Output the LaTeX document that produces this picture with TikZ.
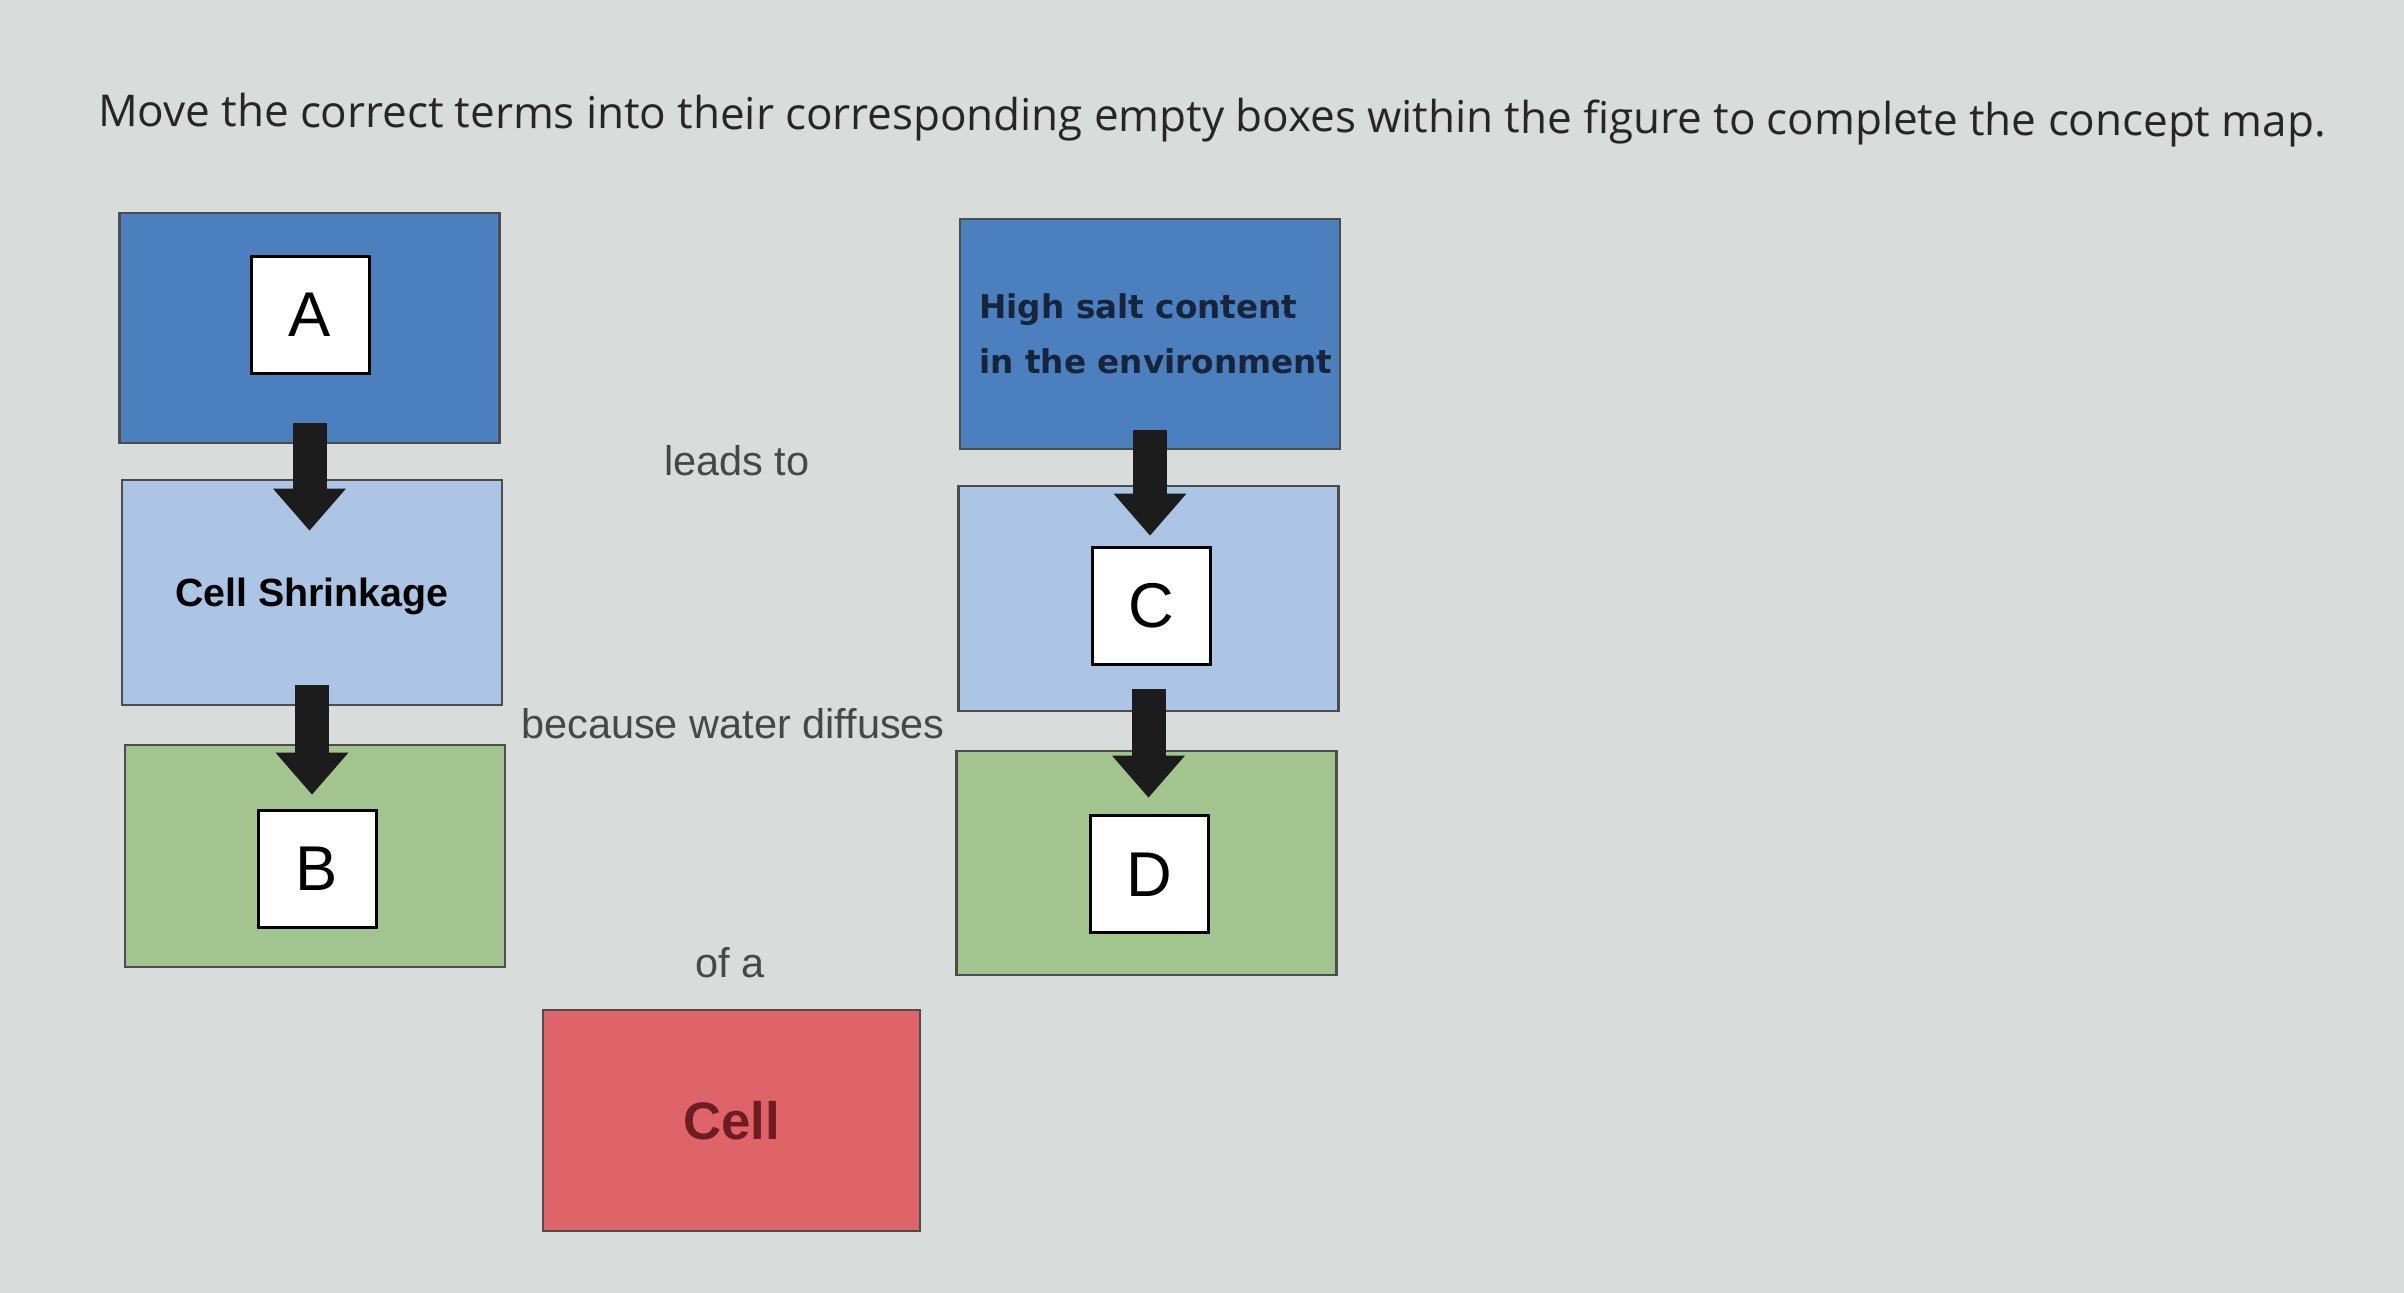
\documentclass[tikz,border=0pt]{standalone}
\usepackage{fontspec}
\usepackage{tikz}
\usetikzlibrary{arrows.meta}
\newfontfamily\titlefont{Open Sans}
\newfontfamily\labelfont{Liberation Sans}
\newfontfamily\saltfont{DejaVu Sans}
\definecolor{bgcol}{RGB}{216,220,218}
\definecolor{darkblue}{RGB}{76,127,190}
\definecolor{lightblue}{RGB}{172,197,228}
\definecolor{greenbox}{RGB}{162,196,142}
\definecolor{redbox}{RGB}{222,100,106}
\definecolor{arrowcol}{RGB}{28,28,28}
\definecolor{linkcol}{RGB}{70,72,72}
\definecolor{cellred}{RGB}{110,28,34}
\definecolor{saltcol}{RGB}{22,36,60}
\tikzstyle{cbox}=[draw=black!70, line width=0.25mm, minimum width=38mm, minimum height=22.5mm, inner sep=0pt]
\tikzstyle{dark}=[cbox, fill=darkblue]
\tikzstyle{light}=[cbox, fill=lightblue]
\tikzstyle{grn}=[cbox, fill=greenbox]
\tikzstyle{slot}=[draw=black, line width=0.3mm, fill=white, minimum width=11.8mm, minimum height=11.7mm, inner sep=0pt, font=\labelfont\fontsize{18}{18}\selectfont]
\tikzstyle{blockarr}=[-{Triangle[width=7mm, length=4.2mm]}, line width=3.4mm, draw=arrowcol]
\tikzstyle{link}=[text=linkcol, font=\labelfont\fontsize{11.8}{14}\selectfont]

\begin{document}
\begin{tikzpicture}[x=0.1mm, y=-0.1mm]
  \fill[bgcol] (0,0) rectangle (2404,1293);
  \useasboundingbox (0,0) rectangle (2404,1293);
  \node[rotate=-0.28, text=black!85, font=\titlefont\fontsize{12.5}{15}\selectfont] (title) at (1212,120)
    {Move the correct terms into their corresponding empty boxes within the figure to complete the concept map.};

  % left column
  \node[dark, minimum height=23mm] (cause) at (309.5,328) {};
  \node[slot] (slotA) at (310,315) {A};
  \node[light, text depth=0pt, font=\labelfont\bfseries\fontsize{11.2}{13}\selectfont] (shrink) at (312,592.5) {Cell Shrinkage};
  \node[grn, minimum height=22.2mm] (effect) at (315,856) {};
  \node[slot] (slotB) at (317,869) {B};

  % right column
  \node[dark, minimum height=23mm, align=left, text=saltcol, font=\saltfont\bfseries\fontsize{9.3}{15.6}\selectfont] (env) at (1150,334)
    {\hspace*{1.2mm}High salt content\\\hspace*{1.2mm}in the environment};
  \node[light] (water) at (1148.5,598.5) {};
  \node[slot] (slotC) at (1151,606) {C};
  \node[grn, minimum height=22.4mm] (move) at (1146.5,863) {};
  \node[slot] (slotD) at (1149,874.5) {D};

  % linking words
  \node[link] (leads) at (737,461) {leads to};
  \node[link] (because) at (733,724) {because water diffuses};
  \node[link] (ofa) at (730,963) {of a};
  \node[cbox, minimum width=37.7mm, minimum height=22.1mm, fill=redbox, text=cellred, font=\labelfont\bfseries\fontsize{15}{18}\selectfont] (cell) at (731.5,1120.5) {Cell};

  \draw[blockarr] ([yshift=2.1mm]cause.south) -- ([yshift=-5.2mm]cause.south |- shrink.north);
  \draw[blockarr] ([yshift=2.1mm]shrink.south) -- ([yshift=-5.1mm]shrink.south |- effect.north);
  \draw[blockarr] ([yshift=2.0mm]env.south) -- ([yshift=-5.1mm]env.south |- water.north);
  \draw[blockarr] ([yshift=2.3mm]water.south) -- ([yshift=-4.8mm]water.south |- move.north);
\end{tikzpicture}
\end{document}
